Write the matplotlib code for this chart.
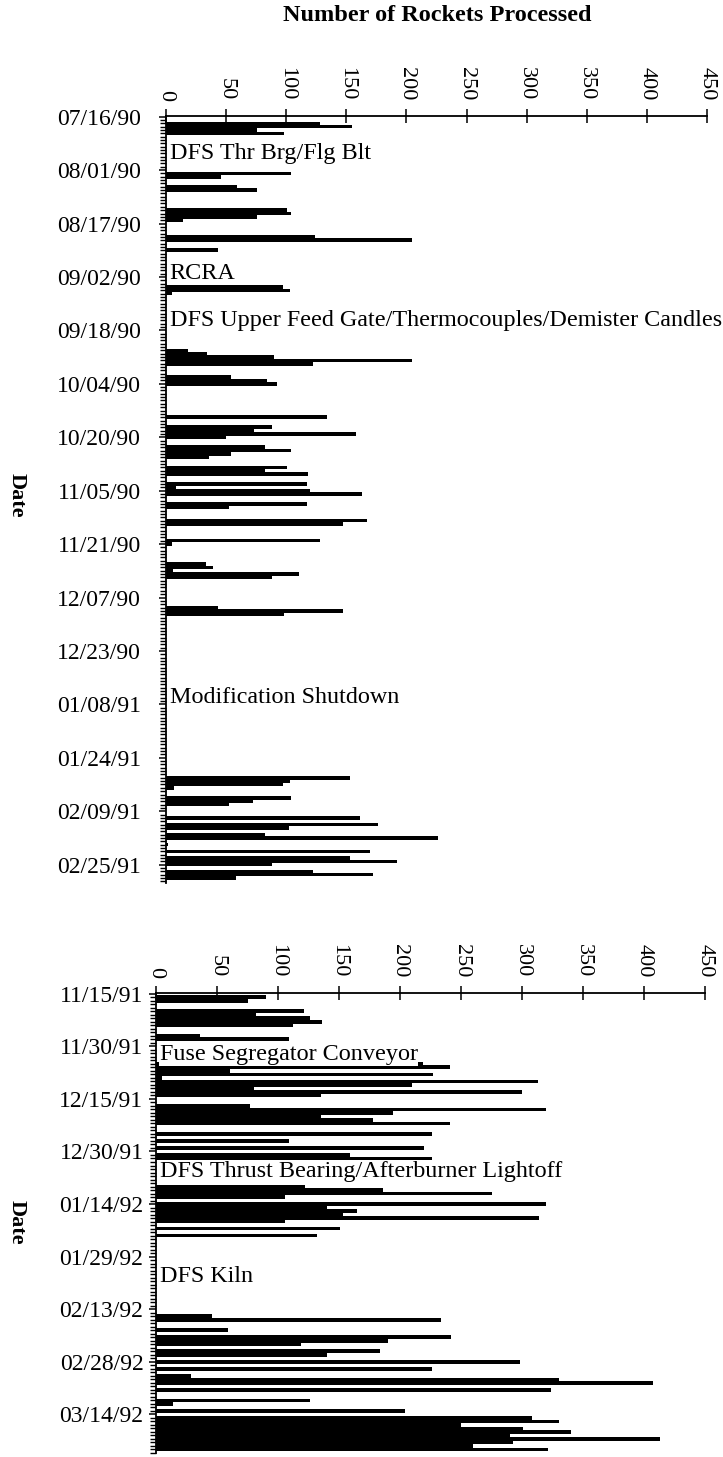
import numpy as np
import matplotlib
matplotlib.use("Agg")
import matplotlib.pyplot as plt
import matplotlib.dates as mdates
from matplotlib.ticker import FixedLocator

plt.rcParams["font.family"] = ["Liberation Serif", "DejaVu Serif"]

# ---- Campaign 1: days counted from 07/16/90 ----
start1 = "1990-07-16"
days1 = [2, 3, 4, 5, 17, 18, 21, 22, 28, 29, 30, 31, 36, 37, 40, 51, 52, 53,
         70, 71, 72, 73, 74, 78, 79, 80, 90, 93, 94, 95, 96, 99, 100, 101, 102,
         105, 106, 107, 110, 111, 112, 113, 116, 117, 121, 122, 127, 128,
         134, 135, 136, 137, 138, 147, 148, 149,
         198, 199, 200, 201, 204, 205, 206, 210, 212, 213, 215, 216, 218,
         220, 222, 223, 224, 226, 227, 228]
rockets1 = [128, 155, 76, 98, 104, 46, 59, 76, 101, 104, 76, 14, 124, 205, 43, 97, 103, 5,
            18, 34, 90, 205, 122, 54, 84, 92, 134, 88, 73, 158, 50, 82, 104, 54, 36,
            101, 82, 118, 117, 8, 120, 163, 117, 52, 167, 147, 128, 5,
            33, 39, 6, 111, 88, 43, 147, 98,
            153, 103, 97, 7, 104, 72, 52, 161, 176, 102, 82, 226, 2,
            170, 153, 192, 88, 122, 172, 58]
notes1_days = [11, 47, 61, 174]
notes1 = ["DFS Thr Brg/Flg Blt", "RCRA",
          "DFS Upper Feed Gate/Thermocouples/Demister Candles",
          "Modification Shutdown"]

# ---- Campaign 2: days counted from 11/15/91 ----
start2 = "1991-11-15"
days2 = [1, 2, 5, 6, 7, 8, 9, 12, 13,
         20, 21, 22, 23, 24, 25, 26, 27, 28, 29,
         32, 33, 34, 35, 36, 37, 40, 42, 44, 46, 47,
         55, 56, 57, 58, 60, 61, 62, 63, 64, 65, 67, 69,
         92, 93, 96, 98, 99, 100, 102, 103, 105, 107, 109, 110, 111, 113,
         116, 117, 119, 121, 122, 123, 124, 125, 126, 127, 128, 129, 130]
rockets2 = [90, 75, 121, 82, 126, 136, 112, 36, 109,
            219, 241, 61, 227, 5, 313, 210, 80, 300, 135,
            77, 320, 194, 135, 178, 241, 226, 109, 220, 159, 226,
            122, 186, 275, 106, 320, 140, 165, 153, 314, 106, 151, 132,
            46, 234, 59, 242, 190, 119, 184, 140, 298, 226, 29, 330, 407, 324,
            126, 14, 204, 308, 330, 250, 301, 340, 290, 413, 293, 260, 321]
notes2_days = [17.4, 50.6, 80.6]
notes2 = ["Fuse Segregator Conveyor", "DFS Thrust Bearing/Afterburner Lightoff",
          "DFS Kiln"]

x_ticks = list(range(0, 451, 50))


def day_nums(start, offsets):
    base = mdates.date2num(np.datetime64(start))
    return base + np.asarray(offsets, dtype=float)


def panel(ax, start, days, vals, span, label_step, notes_days, notes, date_pad):
    y = day_nums(start, days)
    ax.barh(y, vals, height=1.05, color="black", edgecolor="none")
    base = mdates.date2num(np.datetime64(start))
    ax.set_ylim(base + span, base - 0.2)
    ax.set_xlim(0, 450)

    ax.yaxis.set_major_locator(FixedLocator(base + np.arange(0, span, label_step)))
    ax.yaxis.set_major_formatter(mdates.DateFormatter("%m/%d/%y"))
    ax.yaxis.set_minor_locator(mdates.DayLocator())
    ax.tick_params(axis="y", which="major", direction="out", length=5, width=1.1,
                   labelsize=17, pad=date_pad)
    ax.tick_params(axis="y", which="minor", direction="out", length=4, width=1.0)

    ax.xaxis.tick_top()
    ax.set_xticks(x_ticks)
    ax.tick_params(axis="x", direction="inout", length=10, width=1.1, labelsize=16, pad=6)
    for lab in ax.get_xticklabels():
        lab.set_rotation(270)
        lab.set_va("bottom")
        lab.set_ha("center")

    for s in ("right", "bottom"):
        ax.spines[s].set_visible(False)
    ax.spines["top"].set_linewidth(1.3)
    ax.spines["left"].set_linewidth(1.3)

    for d, txt in zip(notes_days, notes):
        ax.text(3, base + d, txt, ha="left", va="center", fontsize=17.4,
                clip_on=False, zorder=5,
                bbox=dict(facecolor="white", edgecolor="none", pad=0.5))


fig = plt.figure(figsize=(7.23, 14.57), dpi=100)

ax1 = fig.add_axes([166 / 723, 1 - 883 / 1457, (707 - 166) / 723, (883 - 116) / 1457])
panel(ax1, start1, days1, rockets1, 229.5, 16, notes1_days, notes1, 13)

ax2 = fig.add_axes([156 / 723, 1 - 1453 / 1457, (705 - 156) / 723, (1453 - 993) / 1457])
panel(ax2, start2, days2, rockets2, 131, 15, notes2_days, notes2, 4)

fig.text(437 / 723, 1 - 5 / 1457, "Number of Rockets Processed", ha="center", va="top",
         fontsize=17.5, fontweight="bold")
fig.text(17 / 723, 1 - 495 / 1457, "Date", rotation=270, ha="center", va="center",
         fontsize=16, fontweight="bold")
fig.text(17 / 723, 1 - 1222 / 1457, "Date", rotation=270, ha="center", va="center",
         fontsize=16, fontweight="bold")

fig.savefig("out.png", dpi=100, facecolor="white")
